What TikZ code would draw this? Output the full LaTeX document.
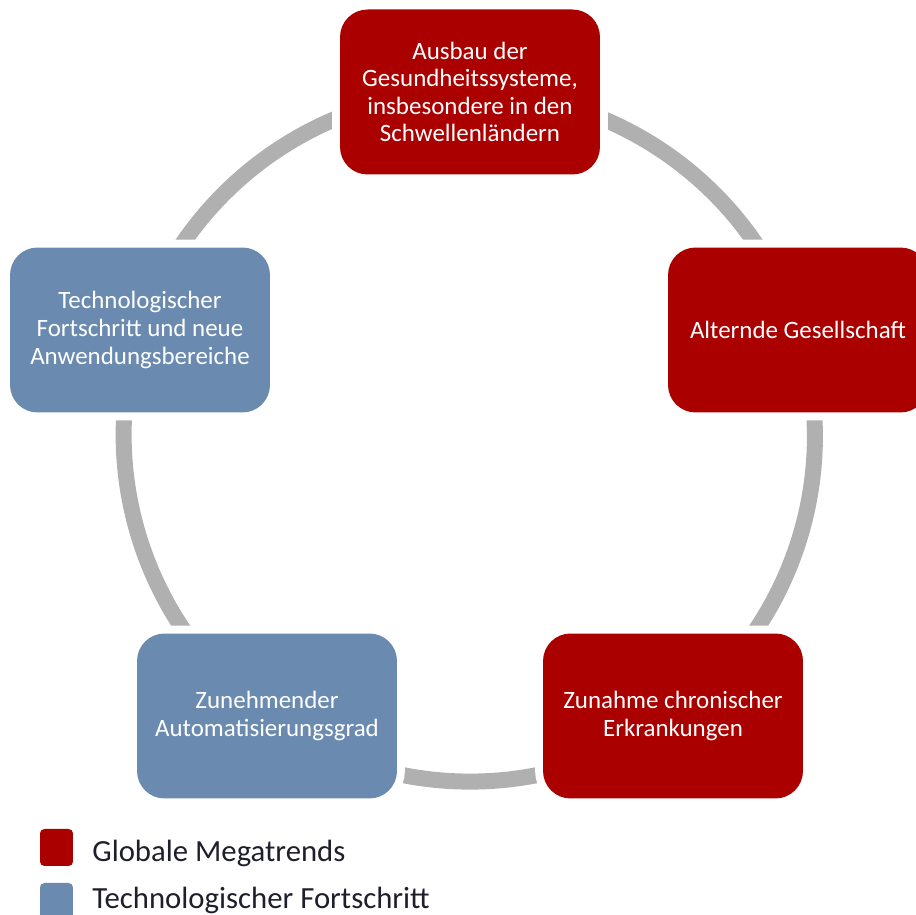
\documentclass[tikz,border=0pt]{standalone}
\usepackage{fontspec}
\setmainfont{Carlito}
\usepackage{tikz}
\usetikzlibrary{positioning}
\definecolor{trendred}{HTML}{AA0000}
\definecolor{techblue}{HTML}{6A8BAF}
\definecolor{ringgray}{HTML}{B0B0B0}
\definecolor{legendtext}{HTML}{1E1E2C}
\pgfdeclarelayer{background}
\pgfsetlayers{background,main}
\tikzset{
    trend box/.style={rounded corners=0.55cm,minimum width=5.2cm,minimum height=3.3cm,
        inner sep=2pt,align=center,text=white,fill=#1,
        preaction={draw=white,line width=9pt}},
    trend box/.default=trendred,
    tech box/.style={trend box=techblue},
    ring/.style={ringgray,line width=0.32cm},
    ring step/.style={bend left=36,looseness=0.94},
    key box/.style={rounded corners=2.5pt,minimum width=0.66cm,minimum height=0.74cm,inner sep=0pt,fill=#1},
    key label/.style={anchor=base west,inner sep=0pt,text=legendtext,font=\fontsize{17.5}{20}\selectfont},
}
\tikzstyle{every node}=[font=\fontsize{14.2}{15.7}\selectfont]

\begin{document}
\begin{tikzpicture}[x=0.02cm,y=0.02cm]
        \useasboundingbox (0,0) rectangle (916,915);
        \clip (0,0) rectangle (916,915);
        % five trends on a ring
        \node[trend box] (health) at (470,823) {Ausbau der\\Gesundheitssysteme,\\insbesondere in den\\Schwellenländern};
        \node[trend box] (aging) at (798,585) {Alternde Gesellschaft};
        \node[trend box] (chronic) at (673,199) {Zunahme chronischer\\Erkrankungen};
        \node[tech box] (automation) at (267,199) {Zunehmender\\Automatisierungsgrad};
        \node[tech box] (technology) at (140,585) {Technologischer\\Fortschritt und neue\\Anwendungsbereiche};
        \begin{pgfonlayer}{background}
            \draw[ring] (health.center) to[ring step] (aging.center)
                to[ring step] (chronic.center)
                to[ring step] (automation.center)
                to[ring step] (technology.center)
                to[ring step] (health.center);
        \end{pgfonlayer}
        % legend
        \node[key box=trendred] (megatrends key) at (56.5,67.5) {};
        \node[key box=techblue] (progress key) at (56.5,13.5) {};
        \node[key label] (megatrends label) at (92,53) {Globale Megatrends};
        \node[key label] (progress label) at (92,6) {Technologischer Fortschritt};
    \end{tikzpicture}
\end{document}
